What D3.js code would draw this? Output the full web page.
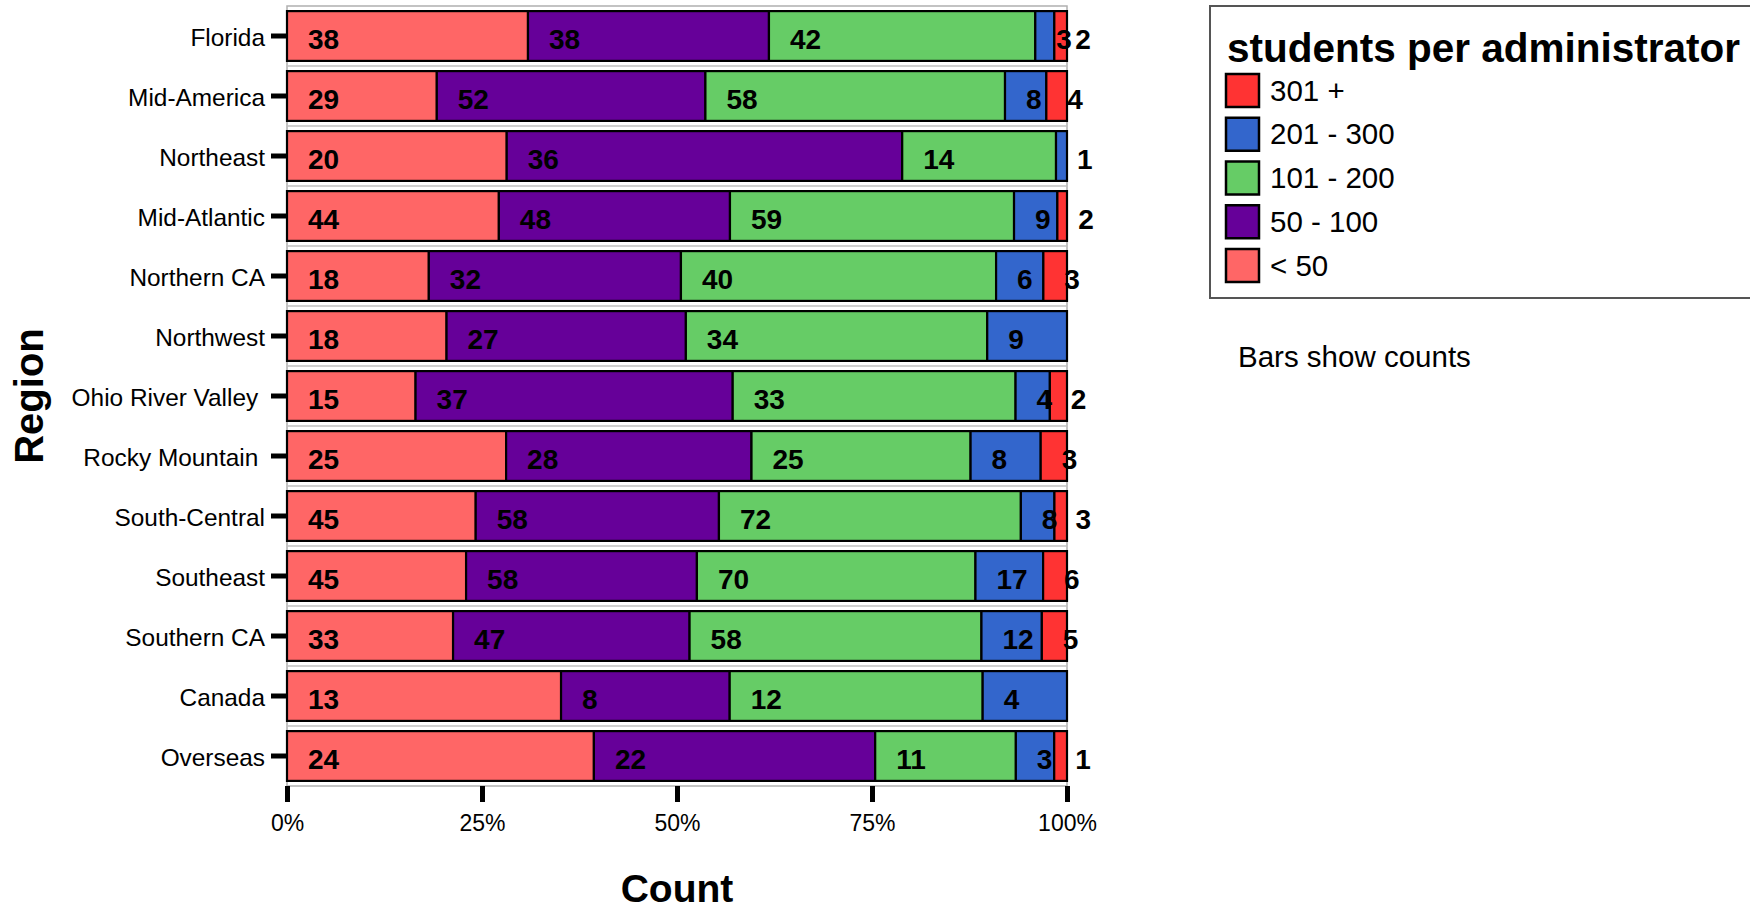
<!DOCTYPE html>
<html>
<head>
<meta charset="utf-8">
<script src="https://cdn.jsdelivr.net/npm/d3@7"></script>
<style>
  html, body { margin: 0; padding: 0; background: #fff; }
  svg { display: block; font-family: "Liberation Sans", Arial, Helvetica, sans-serif; }
  .ylab { white-space: pre; }
</style>
</head>
<body>
<svg id="chart" width="1750" height="909"></svg>
<script>
// ---- data ----
const regions = ["Florida", "Mid-America", "Northeast", "Mid-Atlantic", "Northern CA", "Northwest",
  "Ohio River Valley ", "Rocky Mountain ", "South-Central", "Southeast", "Southern CA", "Canada", "Overseas"];
const groups = ["< 50", "50 - 100", "101 - 200", "201 - 300", "301 +"];
const lt50    = [38, 29, 20, 44, 18, 18, 15, 25, 45, 45, 33, 13, 24];
const g50_100 = [38, 52, 36, 48, 32, 27, 37, 28, 58, 58, 47, 8, 22];
const g101_200= [42, 58, 14, 59, 40, 34, 33, 25, 72, 70, 58, 12, 11];
const g201_300= [3, 8, 1, 9, 6, 9, 4, 8, 8, 17, 12, 4, 3];
const g301    = [2, 4, 0, 2, 3, 0, 2, 3, 3, 6, 5, 0, 1];
const xTicks  = [0, 0.25, 0.5, 0.75, 1];
const colors  = ["#FF6666", "#660099", "#66CC66", "#3366CC", "#FF3333"];

const series = [lt50, g50_100, g101_200, g201_300, g301];

// ---- layout ----
const svg = d3.select("#chart");
const panel = { left: 287, right: 1067, top: 6, bottom: 786 };

const x = d3.scaleLinear().domain([0, 1]).range([panel.left, panel.right]);
const y = d3.scaleBand().domain(regions).range([panel.top, panel.bottom])
  .paddingInner(0.17).paddingOuter(0.085);
const color = d3.scaleOrdinal().domain(groups).range(colors);

// build segments
const segs = [];
regions.forEach((r, i) => {
  const total = d3.sum(series, s => s[i]);
  let cum = 0;
  groups.forEach((g, j) => {
    const v = series[j][i];
    segs.push({ region: r, group: g, value: v, x0: cum / total, x1: (cum + v) / total });
    cum += v;
  });
});

// panel borders (facet-like grey lines)
const step = y.step();
const grid = svg.append("g");
grid.append("rect")
  .attr("x", panel.left).attr("y", panel.top)
  .attr("width", panel.right - panel.left).attr("height", panel.bottom - panel.top)
  .attr("fill", "none").attr("stroke", "#b0b0b0").attr("stroke-width", 1.5);
grid.selectAll("line.sep").data(regions.slice(1)).enter().append("line")
  .attr("x1", panel.left).attr("x2", panel.right)
  .attr("y1", (d, i) => panel.top + step * (i + 1))
  .attr("y2", (d, i) => panel.top + step * (i + 1))
  .attr("stroke", "#c0c0c0").attr("stroke-width", 1.5);

// bars
svg.append("g").selectAll("rect").data(segs.filter(d => d.value > 0)).enter().append("rect")
  .attr("x", d => x(d.x0))
  .attr("y", d => y(d.region))
  .attr("width", d => x(d.x1) - x(d.x0))
  .attr("height", y.bandwidth())
  .attr("fill", d => color(d.group))
  .attr("stroke", "#000").attr("stroke-width", 2.2);

// labels
svg.append("g").selectAll("text").data(segs.filter(d => d.value > 0)).enter().append("text")
  .attr("x", d => x(d.x0) + 21)
  .attr("y", d => y(d.region) + y.bandwidth() / 2 + 12.5)
  .attr("font-size", 28).attr("font-weight", "bold").attr("fill", "#000")
  .text(d => d.value);

// y axis
const yAxis = svg.append("g").attr("transform", `translate(${panel.left},0)`)
  .call(d3.axisLeft(y).tickSize(16).tickPadding(6));
yAxis.select(".domain").remove();
yAxis.selectAll(".tick line").attr("stroke", "#000").attr("stroke-width", 5);
yAxis.selectAll(".tick text").attr("class", "ylab").attr("font-size", 24.4).attr("fill", "#000")
  .attr("dy", "0.42em").attr("font-family", "'Liberation Sans', Arial, sans-serif");

// x axis
const xAxis = svg.append("g").attr("transform", `translate(0,${panel.bottom})`)
  .call(d3.axisBottom(x).tickValues(xTicks).tickFormat(d3.format(".0%")).tickSize(16).tickPadding(12.5));
xAxis.select(".domain").remove();
xAxis.selectAll(".tick line").attr("stroke", "#000").attr("stroke-width", 5);
xAxis.selectAll(".tick text").attr("font-size", 23).attr("fill", "#000")
  .attr("font-family", "'Liberation Sans', Arial, sans-serif");

// axis titles
svg.append("text").attr("x", (panel.left + panel.right) / 2).attr("y", 902)
  .attr("text-anchor", "middle").attr("font-size", 39).attr("font-weight", "bold").text("Count");
svg.append("text").attr("transform", `translate(42.5,${(panel.top + panel.bottom) / 2}) rotate(-90)`)
  .attr("text-anchor", "middle").attr("font-size", 40).attr("font-weight", "bold").text("Region");

// legend
const lg = svg.append("g");
lg.append("rect").attr("x", 1210).attr("y", 6).attr("width", 600).attr("height", 292)
  .attr("fill", "#fff").attr("stroke", "#555").attr("stroke-width", 2);
lg.append("text").attr("x", 1227).attr("y", 62).attr("font-size", 40.5).attr("font-weight", "bold")
  .text("students per administrator");
const legendOrder = groups.slice().reverse();
const ly = d3.scalePoint().domain(legendOrder).range([74, 249]);
lg.selectAll("rect.key").data(legendOrder).enter().append("rect")
  .attr("x", 1226).attr("y", d => ly(d)).attr("width", 33).attr("height", 33)
  .attr("fill", d => color(d)).attr("stroke", "#000").attr("stroke-width", 2.5);
lg.selectAll("text.lab").data(legendOrder).enter().append("text")
  .attr("x", 1270).attr("y", d => ly(d) + 16.5 + 10)
  .attr("font-size", 29.5).attr("fill", "#000").text(d => d);

svg.append("text").attr("x", 1238).attr("y", 366.5).attr("font-size", 29.5).attr("fill", "#000")
  .text("Bars show counts");
</script>
</body>
</html>
